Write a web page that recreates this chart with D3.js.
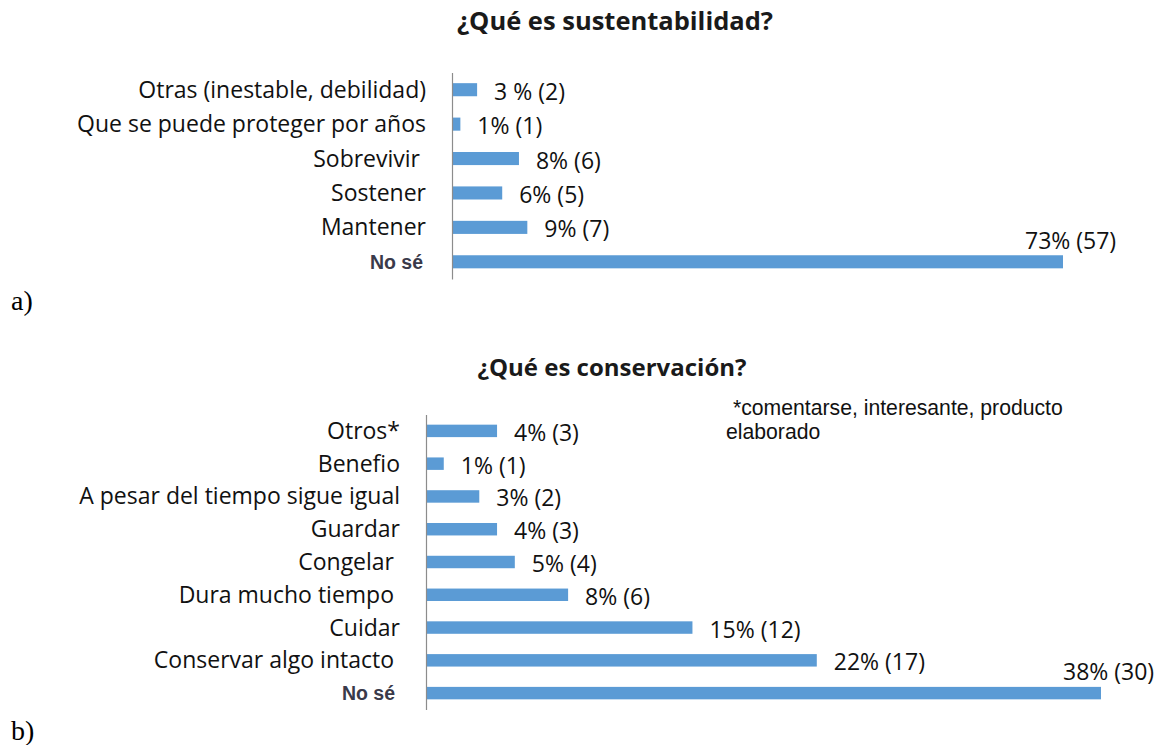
<!DOCTYPE html>
<html><head><meta charset="utf-8">
<script src="https://cdn.jsdelivr.net/npm/d3@7"></script>
<style>
body{margin:0;background:#fff;}
svg text{white-space:pre;}
</style></head>
<body>
<script>
// Chart a data
const catsA = ["Otras (inestable, debilidad)", "Que se puede proteger por años", "Sobrevivir ", "Sostener", "Mantener", "No sé"];
const valsA = [3, 1, 8, 6, 9, 73];
const labelsA = ["3 % (2)", "1% (1)", "8% (6)", "6% (5)", "9% (7)", "73% (57)"];
const titleA = "¿Qué es sustentabilidad?";

// Chart b data
const catsB = ["Otros*", "Benefio", "A pesar del tiempo sigue igual", "Guardar", "Congelar ", "Dura mucho tiempo ", "Cuidar", "Conservar algo intacto ", "No sé"];
const valsB = [4, 1, 3, 4, 5, 8, 15, 22, 38];
const labelsB = ["4% (3)", "1% (1)", "3% (2)", "4% (3)", "5% (4)", "8% (6)", "15% (12)", "22% (17)", "38% (30)"];
const titleB = "¿Qué es conservación?";
const noteB = ["*comentarse, interesante, producto", "elaborado"];

const W = 1166, H = 745;
const svg = d3.select("body").append("svg").attr("width", W).attr("height", H);
const FONT = "'Open Sans', 'Noto Sans', sans-serif";
const BAR = "#5B9BD5";

function chart(cfg){
  const g = svg.append("g");
  const y = d3.scaleBand().domain(cfg.cats).range([cfg.y0, cfg.y1]).paddingInner(0.62).paddingOuter(0.31);
  const x = d3.scaleLinear().domain([0, d3.max(cfg.vals)]).range([cfg.x0, cfg.x1]);
  const maxV = d3.max(cfg.vals);
  g.append("text").attr("x", cfg.tx).attr("y", cfg.ty).attr("text-anchor","middle")
    .attr("font-family", FONT).attr("font-weight","bold").attr("font-size", cfg.tsize).attr("fill","#1a1a1a").text(cfg.title);
  g.selectAll("rect").data(cfg.vals).join("rect")
    .attr("x", x(0)).attr("y", (d,i)=> y(cfg.cats[i]))
    .attr("width", d => x(d)-x(0)).attr("height", y.bandwidth()).attr("fill", BAR);
  // axis
  const ax = g.append("g").attr("transform", `translate(${x(0)},0)`)
    .call(d3.axisLeft(y).tickSize(0).tickFormat(""));
  ax.select(".domain").attr("stroke","#8c8c8c").attr("stroke-width",1.2);
  // category labels
  g.selectAll("text.cat").data(cfg.cats).join("text").attr("class","cat")
    .attr("x", x(0)-26 ).attr("y", d => y(d)+y.bandwidth()/2)
    .attr("dy", "0.35em").attr("text-anchor","end")
    .attr("font-family", d => d==="No sé" ? "'Liberation Sans', Arial, sans-serif" : FONT)
    .attr("font-weight", d => d==="No sé" ? "bold" : "normal")
    .attr("font-size", d => d==="No sé" ? 19.5 : 23)
    .attr("fill", d => d==="No sé" ? "#3a3a4a" : "#111")
    .attr("dx", d => d==="No sé" ? cfg.nodx : 0)
    .text(d => d);
  // value labels
  g.selectAll("text.val").data(cfg.vals).join("text").attr("class","val")
    .attr("x", d => d===maxV ? x(d)-38 : x(d)+17)
    .attr("y", (d,i)=> y(cfg.cats[i])+y.bandwidth()/2 + (d===maxV ? -21 : 2))
    .attr("dy","0.35em")
    .attr("font-family", FONT).attr("font-size", 23).attr("fill","#111")
    .text((d,i)=> cfg.labels[i]);
  g.append("text").attr("x", 11).attr("y", cfg.py)
    .attr("font-family","'Liberation Serif','Times New Roman',serif").attr("font-size",28).attr("fill","#000").text(cfg.panel);
  return g;
}

chart({cats:catsA, vals:valsA, labels:labelsA, title:titleA, tsize:25.5, y0:72.5, y1:279, x0:452, x1:1063, tx:615, ty:30, panel:"a)", py:310, nodx:-3});
const gb = chart({cats:catsB, vals:valsB, labels:labelsB, title:titleB, tsize:24, y0:414.5, y1:709.5, x0:426, x1:1101, tx:612, ty:376, panel:"b)", py:740, nodx:-5});

gb.selectAll("text.note").data(noteB).join("text").attr("class","note")
  .attr("x",(d,i)=> i===0 ? 733 : 726).attr("y",(d,i)=> 415 + i*24)
  .attr("font-family","'Liberation Sans', Arial, sans-serif").attr("font-size",21.2).attr("fill","#111")
  .text(d=>d);
</script>
</body></html>
